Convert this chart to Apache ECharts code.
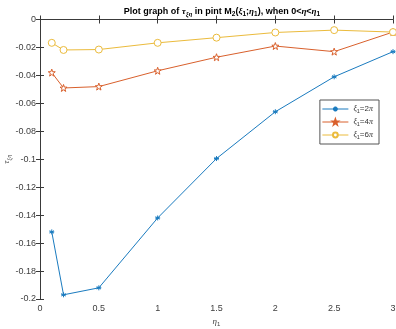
<!DOCTYPE html>
<html><head><meta charset="utf-8">
<script src="https://cdn.jsdelivr.net/npm/echarts@6/dist/echarts.min.js"></script>
<style>html,body{margin:0;padding:0;background:#fff}#c{width:396px;height:329px}</style>
</head><body><div id="c"></div>
<script>
const eta = [0.1, 0.2, 0.5, 1, 1.5, 2, 2.5, 3];
const tau2pi = [-0.152, -0.197, -0.192, -0.142, -0.0995, -0.066, -0.041, -0.023];
const tau4pi = [-0.038, -0.049, -0.048, -0.0367, -0.027, -0.019, -0.023, -0.009];
const tau6pi = [-0.0167, -0.0218, -0.0215, -0.0167, -0.013, -0.0093, -0.0076, -0.009];
const seriesNames = ['{g|ξ}{s|1}=2{g|π}', '{g|ξ}{s|1}=4{g|π}', '{g|ξ}{s|1}=6{g|π}'];
const xTicks = [0, 0.5, 1, 1.5, 2, 2.5, 3];
const colors = ['#1a7bbf', '#d9602c', '#ebbb3c'];

function pentagram(r){
  let pts=[];
  for(let i=0;i<10;i++){
    const rr = i%2===0 ? r : r*0.4;
    const a = -Math.PI/2 + i*Math.PI/5;
    pts.push((rr*Math.cos(a)).toFixed(2)+','+(rr*Math.sin(a)).toFixed(2));
  }
  return 'path://M'+pts.join('L')+'Z';
}
const asterisk = 'path://M0,-5L0,5M-4.33,-2.5L4.33,2.5M-4.33,2.5L4.33,-2.5M-5,0L5,0';

const chart = echarts.init(document.getElementById('c'), null, {renderer:'canvas'});
const rich = {
  b:{fontWeight:'bold', fontSize:9, color:'#000', fontFamily:'Liberation Sans'},
  g:{fontStyle:'italic', fontSize:9, color:'#000', fontFamily:'Liberation Serif'},
  s:{fontSize:6.5, color:'#000', padding:[5,0,0,0], fontFamily:'Liberation Sans', fontWeight:'bold'},
  sg:{fontSize:6.5, fontStyle:'italic', color:'#000', padding:[5,0,0,0], fontFamily:'Liberation Serif'}
};
const legRich = {
  g:{fontStyle:'italic', fontSize:8, color:'#333', fontFamily:'Liberation Serif'},
  s:{fontSize:5.5, color:'#333', padding:[4,0,0,0], fontFamily:'Liberation Sans'}
};
function mkSeries(name, data, color, symbol, size, filled){
  return {
    name, type:'line', data: eta.map((x,i)=>[x,data[i]]),
    symbol, symbolSize:size, showSymbol:true,
    lineStyle:{color, width:1},
    itemStyle:{color: filled?color:'#fff', borderColor:color, borderWidth:1},
    emphasis:{disabled:true}, animation:false
  };
}
const axisCommon = {
  axisLine:{show:true, lineStyle:{color:'#3a3a3a', width:1}},
  axisTick:{show:true, inside:true, length:4, lineStyle:{color:'#3a3a3a'}},
  splitLine:{show:false}
};
chart.setOption({
  animation:false,
  backgroundColor:'#fff',
  title:{
    text:'{b|Plot graph of }{g|τ}{sg|ξη}{b| in pint M}{s|2}{b|(}{g|ξ}{s|1}{b|;}{g|η}{s|1}{b|), when 0<}{g|η}{b|<}{g|η}{s|1}',
    left:217, top:1, textAlign:'center',
    textStyle:{rich}
  },
  legend:{
    orient:'vertical', right:17, top:100,
    backgroundColor:'#fff', borderColor:'#555', borderWidth:1,
    padding:[5,6,4,2], itemGap:4, itemWidth:26, itemHeight:6,
    lineStyle:{width:1},
    textStyle:{fontSize:8, color:'#333', rich:legRich},
    data: seriesNames
  },
  grid:{left:40, right:3, top:19.5, bottom:30, containLabel:false, outerBoundsMode:'none'},
  xAxis:[
    Object.assign({type:'value', min:xTicks[0], max:xTicks[xTicks.length-1], interval:0.5, position:'bottom',
      name:'{g|η}{s|1}', nameLocation:'middle', nameGap:17, nameMoveOverlap:false,
      nameTextStyle:{rich:{g:{fontStyle:'italic', fontSize:9, color:'#444', fontFamily:'Liberation Serif'}, s:{fontSize:6,color:'#444',padding:[5,0,0,0]}}},
      axisLabel:{fontSize:9, color:'#404040', margin:5, fontFamily:'Liberation Sans'}}, axisCommon),
    Object.assign({type:'value', min:0, max:3, interval:0.5, position:'top', axisLabel:{show:false}}, axisCommon)
  ],
  yAxis:[
    Object.assign({type:'value', min:-0.2, max:0, interval:0.02, position:'left',
      name:'{g|τ}{s|ξη}', nameLocation:'middle', nameGap:28, nameRotate:90, nameMoveOverlap:false,
      nameTextStyle:{rich:{g:{fontStyle:'italic', fontSize:9, color:'#444', fontFamily:'Liberation Serif'}, s:{fontSize:6,fontStyle:'italic',color:'#444',padding:[5,0,0,0], fontFamily:'Liberation Serif'}}},
      axisLabel:{fontSize:9, color:'#404040', margin:4, fontFamily:'Liberation Sans', formatter:v=>String(Math.round(v*100)/100)}}, axisCommon),
    Object.assign({type:'value', min:-0.2, max:0, interval:0.02, position:'right', axisLabel:{show:false}}, axisCommon)
  ],
  series:[
    mkSeries(seriesNames[0], tau2pi, colors[0], asterisk, 5, true),
    mkSeries(seriesNames[1], tau4pi, colors[1], pentagram(4), 7, false),
    mkSeries(seriesNames[2], tau6pi, colors[2], 'circle', 7, false)
  ]
});
</script></body></html>
